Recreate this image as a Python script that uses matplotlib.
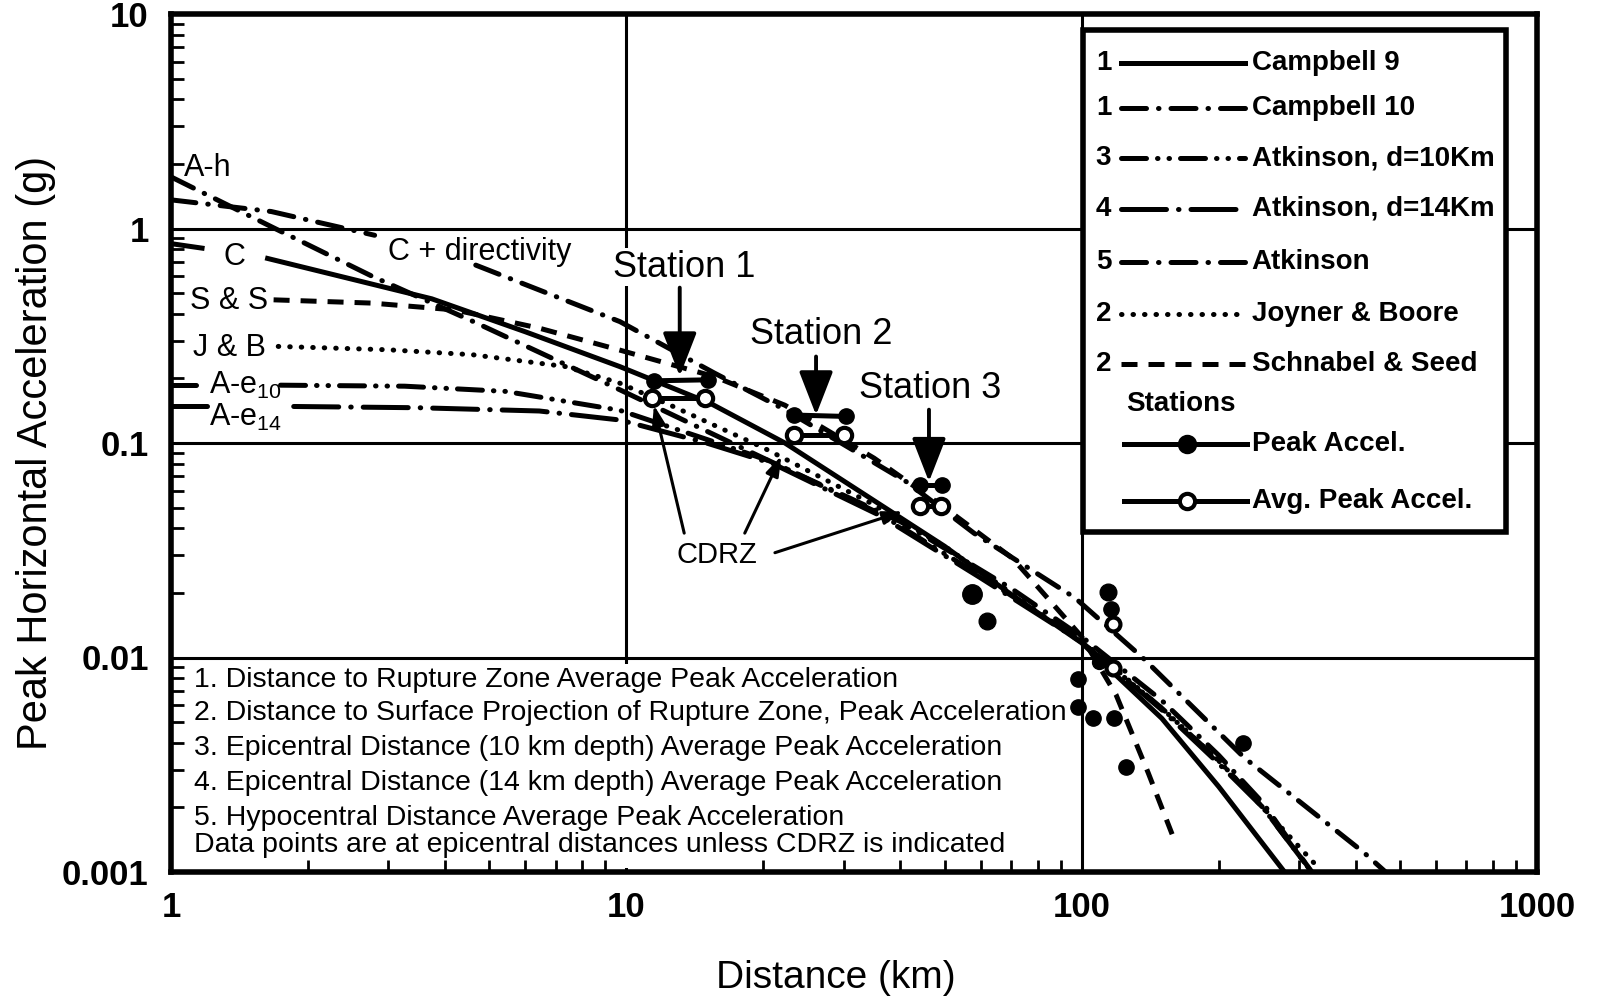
import matplotlib
matplotlib.use('Agg')
import matplotlib.pyplot as plt
from matplotlib.patches import Rectangle
from matplotlib.lines import Line2D

plt.rcParams['font.family'] = ['Liberation Sans', 'DejaVu Sans']
plt.rcParams['mathtext.fontset'] = 'custom'
plt.rcParams['mathtext.rm'] = 'Liberation Sans'
plt.rcParams['mathtext.default'] = 'regular'

# Attenuation curves (distance km, peak accel g)
camp9_x = [1, 1.17, 1.63, 2.5, 3.74, 6.0, 9.68, 15.3, 22.3, 34.7, 50, 68.8, 100, 150, 200, 279]
camp9_y = [0.85, 0.81, 0.725, 0.58, 0.47, 0.33, 0.227, 0.153, 0.10, 0.0545, 0.033, 0.0202, 0.0117, 0.0052, 0.0025, 0.001]

camp10_x = [1, 1.66, 2.8, 4.67, 9.68, 15.6, 22.3, 41.2, 58, 96.6, 136, 228, 417, 465]
camp10_y = [1.36, 1.20, 0.93, 0.675, 0.368, 0.212, 0.143, 0.066, 0.038, 0.019, 0.01, 0.0034, 0.00123, 0.001]

ss_x = [1.68, 2.76, 4.21, 6.44, 9.68, 15.6, 22.3, 35, 50, 70.5, 100, 119, 140, 158]
ss_y = [0.465, 0.449, 0.417, 0.343, 0.271, 0.204, 0.15, 0.085, 0.05, 0.029, 0.0125, 0.0067, 0.0029, 0.0015]

jb_x = [1.72, 3, 4.59, 7.37, 9.68, 12.5, 20, 34.7, 50, 70, 100, 150, 200, 250, 324]
jb_y = [0.282, 0.272, 0.258, 0.227, 0.19, 0.15, 0.095, 0.052, 0.033, 0.02, 0.0118, 0.0058, 0.0033, 0.002, 0.0011]

ah_x = [1, 1.66, 2.76, 4.59, 9.68, 20, 40, 70, 100, 150, 200, 250, 320]
ah_y = [1.74, 1.02, 0.60, 0.37, 0.177, 0.085, 0.043, 0.021, 0.0125, 0.0063, 0.0035, 0.0021, 0.001]

ae10_x = [1, 1.2, 1.74, 3.26, 5.43, 9.68, 15.85, 20.8, 35.9, 60, 100, 150, 200, 250, 320]
ae10_y = [0.187, 0.187, 0.186, 0.184, 0.174, 0.142, 0.1, 0.082, 0.047, 0.024, 0.012, 0.0058, 0.0033, 0.002, 0.001]

ae14_x = [1, 1.2, 1.86, 3.5, 6.44, 9.68, 15, 21, 36, 60, 100, 150, 200, 250, 320]
ae14_y = [0.148, 0.148, 0.148, 0.146, 0.141, 0.128, 0.1, 0.08, 0.046, 0.0235, 0.0118, 0.0057, 0.0032, 0.002, 0.001]

# Station pairs: peak and average peak acceleration
st_names = ['Station 1', 'Station 2', 'Station 3']
st_peak_x = [[11.5, 15.1], [23.3, 30.3], [44.1, 49.3]]
st_peak_y = [[0.195, 0.197], [0.135, 0.133], [0.064, 0.064]]
st_avg_x = [[11.4, 14.9], [23.3, 30.0], [44.1, 49.0]]
st_avg_y = [[0.162, 0.162], [0.109, 0.109], [0.0507, 0.0507]]

# Other recordings
peak_x = [57.4, 62.1, 114, 116, 98, 98, 106, 118, 125, 226, 109]
peak_y = [0.0197, 0.0148, 0.0202, 0.0168, 0.0079, 0.0059, 0.0052, 0.0052, 0.0031, 0.004, 0.0095]
peak_ms = [14, 12, 12, 11, 11, 11, 11, 11, 11, 11, 10]
avg_x = [117, 117]
avg_y = [0.0143, 0.0089]

leg_nums = ['1', '1', '3', '4', '5', '2', '2']
leg_labels = ['Campbell 9', 'Campbell 10', 'Atkinson, d=10Km', 'Atkinson, d=14Km',
              'Atkinson', 'Joyner & Boore', 'Schnabel & Seed']

notes = ['1. Distance to Rupture Zone Average Peak Acceleration',
         '2. Distance to Surface Projection of Rupture Zone, Peak Acceleration',
         '3. Epicentral Distance (10 km depth) Average Peak Acceleration',
         '4. Epicentral Distance (14 km depth) Average Peak Acceleration',
         '5. Hypocentral Distance Average Peak Acceleration',
         'Data points are at epicentral distances unless CDRZ is indicated']

LW = 3.6
styles = {
    'solid': dict(ls='-'),
    'dashdot': dict(dashes=(5, 2.4, 0.1, 2.4), dash_capstyle='round'),
    'dashdotdot': dict(dashes=(5, 2.2, 0.1, 2.2, 0.1, 2.2), dash_capstyle='round'),
    'longdashdot': dict(dashes=(9, 2.4, 0.1, 2.4), dash_capstyle='round'),
    'dotted': dict(dashes=(0.1, 2.2), dash_capstyle='round'),
    'dashed': dict(dashes=(3.2, 2.2)),
}
leg_styles = ['solid', 'dashdot', 'dashdotdot', 'longdashdot', 'dashdot', 'dotted', 'dashed']

fig = plt.figure(figsize=(15.98, 10.0), dpi=100)
ax = fig.add_axes([171 / 1598, 1 - 872 / 1000, 1366 / 1598, 858 / 1000])
ax.set_xscale('log')
ax.set_yscale('log')
ax.set_xlim(1, 1000)
ax.set_ylim(0.001, 10)

# grid lines
for yv in [1, 0.1, 0.01]:
    ax.axhline(yv, color='black', lw=2.2, zorder=1)
for xv in [10, 100]:
    ax.axvline(xv, color='black', lw=2.2, zorder=1)


def curve(x, y, style, brk=None):
    if brk is None:
        ax.plot(x, y, color='black', lw=LW, zorder=3, **styles[style])
    else:
        ax.plot(x[:brk], y[:brk], color='black', lw=LW, zorder=3, **styles[style])
        ax.plot(x[brk:], y[brk:], color='black', lw=LW, zorder=3, **styles[style])


curve(camp9_x, camp9_y, 'solid', brk=2)
curve(camp10_x, camp10_y, 'dashdot', brk=3)
curve(ss_x, ss_y, 'dashed')
curve(jb_x, jb_y, 'dotted')
curve(ah_x, ah_y, 'dashdot')
curve(ae10_x, ae10_y, 'dashdotdot', brk=2)
curve(ae14_x, ae14_y, 'longdashdot', brk=2)

for px, py in zip(st_peak_x, st_peak_y):
    ax.plot(px, py, '-o', color='black', lw=LW, ms=11, zorder=5)
for px, py in zip(st_avg_x, st_avg_y):
    ax.plot(px, py, '-o', color='black', lw=LW, ms=11, mfc='white', mew=3, zorder=5)
for px, py, ms in zip(peak_x, peak_y, peak_ms):
    ax.plot(px, py, 'o', color='black', ms=ms, zorder=5)
ax.plot(avg_x, avg_y, 'o', color='black', ms=10, mfc='white', mew=3, zorder=5)

# curve labels
lab = dict(fontsize=22, va='center', zorder=6)
ax.text(1.07, 1.92, 'A-h', ha='left', **lab)
ax.text(3.0, 0.78, 'C + directivity', ha='left', **lab)
ax.text(1.38, 0.74, 'C', ha='center', **lab)
ax.text(1.10, 0.46, 'S & S', ha='left', **lab)
ax.text(1.12, 0.277, 'J & B', ha='left', **lab)
ax.text(1.21, 0.186, 'A-e$_{10}$', ha='left', **lab)
ax.text(1.21, 0.131, 'A-e$_{14}$', ha='left', **lab)

# station labels and arrows
st_text = [(13.4, 0.66), (26.8, 0.321), (46.4, 0.18)]
st_arrow = [(13.1, 0.53, 0.205), (26.1, 0.253, 0.135), (46.2, 0.143, 0.066)]
for name, (tx, ty), (axx, top, tip) in zip(st_names, st_text, st_arrow):
    ax.text(tx, ty, name, fontsize=26, ha='center', va='center', zorder=6,
            bbox=dict(fc='white', ec='none', pad=1))
    ax.annotate('', xy=(axx, tip), xytext=(axx, top), zorder=6,
                arrowprops=dict(arrowstyle='-|>,head_length=0.9,head_width=0.35',
                                color='black', lw=2.8, mutation_scale=30,
                                shrinkA=0, shrinkB=0))

ax.text(15.8, 0.030, 'CDRZ', fontsize=21, ha='center', va='center', zorder=6)
for (x0, y0), (x1, y1) in [((13.4, 0.038), (11.5, 0.15)),
                           ((18.2, 0.038), (21.9, 0.087)),
                           ((21.2, 0.0308), (40.5, 0.048))]:
    ax.annotate('', xy=(x1, y1), xytext=(x0, y0), zorder=6,
                arrowprops=dict(arrowstyle='-|>,head_length=0.6,head_width=0.2',
                                color='black', lw=2.2, mutation_scale=20,
                                shrinkA=0, shrinkB=0))

# notes block
ax.add_patch(Rectangle((0.008, 0.005), 0.64, 0.238, transform=ax.transAxes,
                       fc='white', ec='none', zorder=1.5))
note_y = [0.2238, 0.1849, 0.1445, 0.1041, 0.0625, 0.0315]
for txt, ny in zip(notes, note_y):
    ax.text(0.0165, ny, txt, transform=ax.transAxes, fontsize=20.5,
            va='center', ha='left', zorder=6)

# legend box
ax.add_patch(Rectangle((0.668, 0.396), 0.309, 0.585, transform=ax.transAxes,
                       fc='white', ec='black', lw=4, zorder=7))
leg_font = dict(fontsize=20, fontweight='bold', va='center', zorder=8)
leg_y = [0.943, 0.890, 0.832, 0.773, 0.711, 0.650, 0.592]
for num, txt, st, ly in zip(leg_nums, leg_labels, leg_styles, leg_y):
    ax.text(0.677, ly, num, transform=ax.transAxes, **leg_font)
    ax.add_line(Line2D([0.6955, 0.7865], [ly, ly], transform=ax.transAxes,
                       color='black', lw=LW, zorder=8, **styles[st]))
    ax.text(0.791, ly, txt, transform=ax.transAxes, **leg_font)
ax.text(0.699, 0.545, 'Stations', transform=ax.transAxes, **leg_font)
for ly, txt, face in [(0.499, 'Peak Accel.', 'black'), (0.432, 'Avg. Peak Accel.', 'white')]:
    ax.add_line(Line2D([0.698, 0.788], [ly, ly], transform=ax.transAxes,
                       color='black', lw=LW, zorder=8))
    ax.add_line(Line2D([0.744], [ly], transform=ax.transAxes, marker='o', ms=11,
                       mfc=face, mec='black', mew=3, zorder=9))
    ax.text(0.791, ly, txt, transform=ax.transAxes, **leg_font)

# axes, ticks
for sp in ax.spines.values():
    sp.set_linewidth(4)
ax.set_xticks([1, 10, 100, 1000], ['1', '10', '100', '1000'])
ax.set_yticks([0.001, 0.01, 0.1, 1, 10], ['0.001', '0.01', '0.1', '1', '10'])
ax.tick_params(which='major', length=0, labelsize=25)
for t in ax.get_xticklabels() + ax.get_yticklabels():
    t.set_fontweight('bold')
ax.tick_params(axis='y', which='major', pad=16)
ax.tick_params(axis='x', which='major', pad=14)
ax.tick_params(which='minor', direction='in', length=9, width=2,
               left=True, bottom=True, top=False, right=False, labelleft=False, labelbottom=False)

fig.text(836 / 1598, 1 - 978 / 1000, 'Distance (km)', fontsize=28, ha='center', va='center')
fig.text(36 / 1598, 1 - 453 / 1000, 'Peak Horizontal Acceleration (g)', fontsize=30,
         rotation=90, ha='center', va='center')

fig.savefig('out.png', dpi=100)
